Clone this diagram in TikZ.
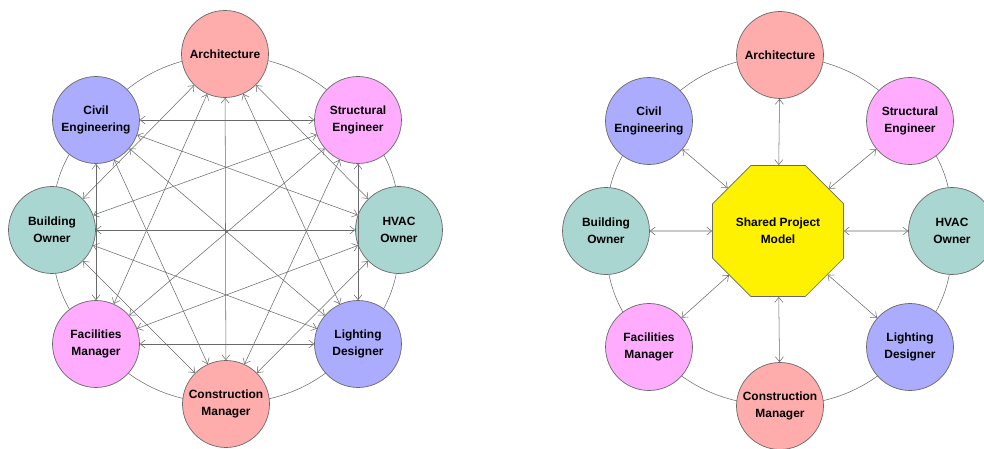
\documentclass[tikz,border=0pt]{standalone}
\usepackage{fontspec}
\setmainfont{Liberation Sans}
\usetikzlibrary{arrows.meta,shapes.geometric,backgrounds}
\definecolor{salmon}{RGB}{255,172,172}
\definecolor{lilac}{RGB}{172,172,255}
\definecolor{orchid}{RGB}{255,172,255}
\definecolor{seafoam}{RGB}{170,214,210}
\definecolor{linegray}{RGB}{105,105,105}

\begin{document}
\begin{tikzpicture}[x=0.02cm, y=-0.02cm,
    party/.style={circle, draw=linegray, line width=0.4pt, minimum size=1.74cm, inner sep=0pt, align=center, font=\fontsize{6.8}{9.5}\selectfont\bfseries},
    hub/.style={regular polygon, regular polygon sides=8, draw=linegray, line width=0.4pt, fill=yellow, minimum size=2.84cm, inner sep=0pt, align=center, font=\fontsize{6.8}{9.5}\selectfont\bfseries},
    link/.style={draw=linegray, line width=0.3pt, {Straight Barb[length=1mm,width=1.6mm]}-{Straight Barb[length=1mm,width=1.6mm]}},
    ring/.style={draw=linegray, line width=0.3pt, bend left=22.5}
]
    \useasboundingbox (0,0) rectangle (984,449);

    % everyone talks to everyone
    \node[party, fill=salmon] (arch) at (225,54) {Architecture};
    \node[party, fill=orchid] (struct) at (358,120) {Structural\\Engineer};
    \node[party, fill=seafoam] (hvac) at (399,230) {HVAC\\Owner};
    \node[party, fill=lilac] (light) at (358,344) {Lighting\\Designer};
    \node[party, fill=salmon] (cman) at (226,404) {Construction\\Manager};
    \node[party, fill=orchid] (facil) at (96,344) {Facilities\\Manager};
    \node[party, fill=seafoam] (bown) at (52,230) {Building\\Owner};
    \node[party, fill=lilac] (civil) at (96,120) {Civil\\Engineering};

    \begin{scope}[on background layer]
        \draw[ring] (arch.center) to (struct.center);
        \draw[ring] (struct.center) to (hvac.center);
        \draw[ring] (hvac.center) to (light.center);
        \draw[ring] (light.center) to (cman.center);
        \draw[ring] (cman.center) to (facil.center);
        \draw[ring] (facil.center) to (bown.center);
        \draw[ring] (bown.center) to (civil.center);
        \draw[ring] (civil.center) to (arch.center);
    \end{scope}

    \draw[link] (arch) -- (hvac);
    \draw[link] (arch) -- (light);
    \draw[link] (arch) -- (cman);
    \draw[link] (arch) -- (facil);
    \draw[link] (arch) -- (bown);
    \draw[link] (struct) -- (light);
    \draw[link] (struct) -- (cman);
    \draw[link] (struct) -- (facil);
    \draw[link] (struct) -- (bown);
    \draw[link] (struct) -- (civil);
    \draw[link] (hvac) -- (cman);
    \draw[link] (hvac) -- (facil);
    \draw[link] (hvac) -- (bown);
    \draw[link] (hvac) -- (civil);
    \draw[link] (light) -- (facil);
    \draw[link] (light) -- (bown);
    \draw[link] (light) -- (civil);
    \draw[link] (cman) -- (bown);
    \draw[link] (cman) -- (civil);
    \draw[link] (facil) -- (civil);

    % everyone talks to the model
    \node[hub] (model) at (778,231) {Shared Project\\Model};
    \node[party, fill=salmon] (arch2) at (780,55) {Architecture};
    \node[party, fill=orchid] (struct2) at (910,121) {Structural\\Engineer};
    \node[party, fill=seafoam] (hvac2) at (952,231) {HVAC\\Owner};
    \node[party, fill=lilac] (light2) at (910,347) {Lighting\\Designer};
    \node[party, fill=salmon] (cman2) at (780,406) {Construction\\Manager};
    \node[party, fill=orchid] (facil2) at (649,347) {Facilities\\Manager};
    \node[party, fill=seafoam] (bown2) at (606,231) {Building\\Owner};
    \node[party, fill=lilac] (civil2) at (649,121) {Civil\\Engineering};

    \begin{scope}[on background layer]
        \draw[ring] (arch2.center) to (struct2.center);
        \draw[ring] (struct2.center) to (hvac2.center);
        \draw[ring] (hvac2.center) to (light2.center);
        \draw[ring] (light2.center) to (cman2.center);
        \draw[ring] (cman2.center) to (facil2.center);
        \draw[ring] (facil2.center) to (bown2.center);
        \draw[ring] (bown2.center) to (civil2.center);
        \draw[ring] (civil2.center) to (arch2.center);
    \end{scope}

    \draw[link] (model) -- (arch2);
    \draw[link] (model) -- (struct2);
    \draw[link] (model) -- (hvac2);
    \draw[link] (model) -- (light2);
    \draw[link] (model) -- (cman2);
    \draw[link] (model) -- (facil2);
    \draw[link] (model) -- (bown2);
    \draw[link] (model) -- (civil2);
\end{tikzpicture}
\end{document}
